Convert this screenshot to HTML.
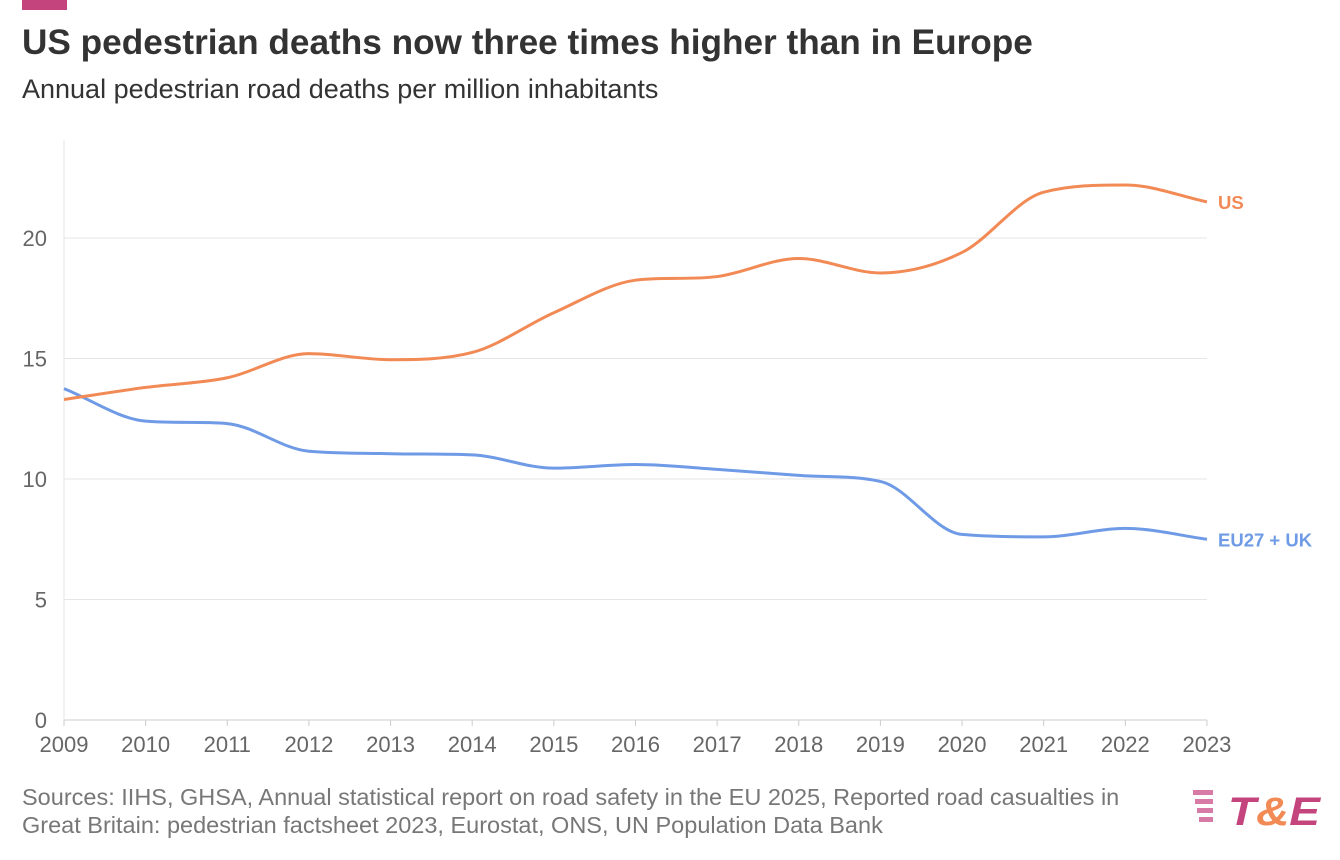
<!DOCTYPE html>
<html><head><meta charset="utf-8"><style>
body{margin:0;background:#fff;width:1340px;height:860px;overflow:hidden;font-family:"Liberation Sans",sans-serif}
.bar{position:absolute;left:22px;top:0;width:45px;height:10px;background:#c4447e}
h1{position:absolute;left:22px;top:23px;margin:0;font-size:35.2px;font-weight:bold;color:#333;white-space:nowrap}
.sub{position:absolute;left:22px;top:74px;font-size:27px;color:#333;white-space:nowrap}
.src{position:absolute;left:22px;top:783px;font-size:23.5px;line-height:28px;color:#777;white-space:nowrap}
</style></head><body>
<div class="bar"></div>
<h1>US pedestrian deaths now three times higher than in Europe</h1>
<div class="sub">Annual pedestrian road deaths per million inhabitants</div>
<svg id="c" width="1340" height="860" style="position:absolute;left:0;top:0"></svg>
<div class="src">Sources: IIHS, GHSA, Annual statistical report on road safety in the EU 2025, Reported road casualties in<br>Great Britain: pedestrian factsheet 2023, Eurostat, ONS, UN Population Data Bank</div>
<script>
const s=document.getElementById('c');
const X=y=>64+(y-2009)*81.64, Y=v=>720-v*24.1;
let h='';
for(let v=0;v<=20;v+=5){h+=`<line x1="64" x2="1207" y1="${Y(v)}" y2="${Y(v)}" stroke="${v?'#e6e6e6':'#ccc'}" stroke-width="1"/>`;
h+=`<text x="47" y="${Y(v)+8}" text-anchor="end" font-size="22" fill="#666">${v}</text>`;}
h+=`<line x1="64" x2="64" y1="140" y2="720" stroke="#e6e6e6"/>`;
for(let y=2009;y<=2023;y++){h+=`<line x1="${X(y)}" x2="${X(y)}" y1="720" y2="726" stroke="#ccc"/><text x="${X(y)}" y="752" text-anchor="middle" font-size="22" fill="#666">${y}</text>`;}
function path(d){const p=d.map((v,i)=>[X(2009+i),Y(v)]);const n=p.length;
const dx=[],m=[],t=[];for(let i=0;i<n-1;i++){dx[i]=p[i+1][0]-p[i][0];m[i]=(p[i+1][1]-p[i][1])/dx[i];}
t[0]=m[0];t[n-1]=m[n-2];for(let i=1;i<n-1;i++){t[i]=m[i-1]*m[i]<=0?0:(m[i-1]+m[i])/2;
const a=t[i]/m[i-1],b=t[i]/m[i];const q=a*a+b*b;if(q>9){const k=3/Math.sqrt(q);t[i]=k*a*m[i-1];}}
let r=`M${p[0][0]},${p[0][1]}`;for(let i=0;i<n-1;i++){const h3=dx[i]/3;r+=`C${p[i][0]+h3},${p[i][1]+t[i]*h3} ${p[i+1][0]-h3},${p[i+1][1]-t[i+1]*h3} ${p[i+1][0]},${p[i+1][1]}`;}return r;}
const us=[13.3,13.8,14.2,15.2,14.95,15.25,16.9,18.25,18.4,19.15,18.55,19.4,21.9,22.2,21.5];
const eu=[13.75,12.4,12.3,11.15,11.05,11.0,10.45,10.6,10.4,10.15,9.9,7.7,7.6,7.95,7.5];
h+=`<path d="${path(eu)}" fill="none" stroke="#6f9be6" stroke-width="3"/>`;
h+=`<path d="${path(us)}" fill="none" stroke="#f28a55" stroke-width="3"/>`;
h+=`<text x="1218" y="${Y(21.5)+7}" font-size="18.5" font-weight="bold" fill="#f28a55">US</text>`;
h+=`<text x="1218" y="${Y(7.5)+7}" font-size="18.5" font-weight="bold" fill="#6f9be6">EU27 + UK</text>`;
for(let i=0;i<4;i++)h+=`<rect x="${1193+i*2}" y="${790+i*9}" width="${20-i*2}" height="5" fill="#d77aa5"/>`;
h+=`<text x="1228" y="825" font-size="40" font-weight="bold" font-style="italic" fill="#c4447e" textLength="92" lengthAdjust="spacingAndGlyphs">T<tspan fill="#f28a55">&amp;</tspan>E</text>`;
s.innerHTML=h;
</script>
</body></html>
